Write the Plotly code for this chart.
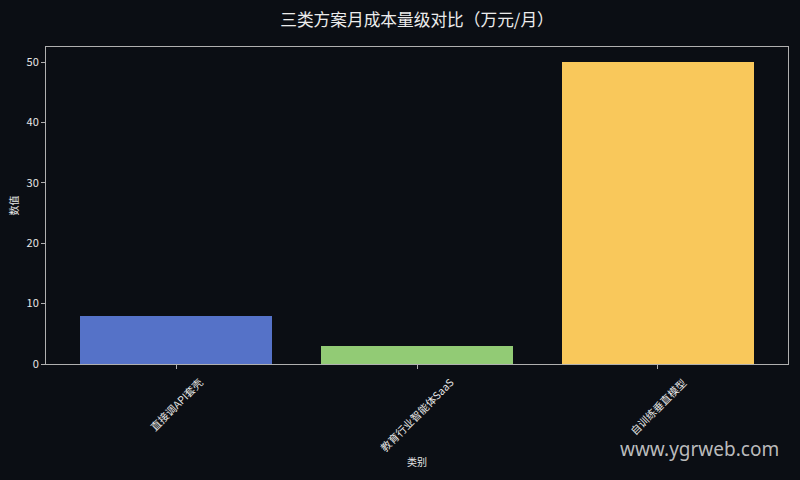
import plotly.graph_objects as go

categories = ["直接调API套壳", "教育行业智能体SaaS", "自训练垂直模型"]
values = [8, 3, 50]
colors = ["#5572c8", "#92cb75", "#f9c85b"]
title = "三类方案月成本量级对比（万元/月）"
x_title = "类别"
y_title = "数值"
y_ticks = [0, 10, 20, 30, 40, 50]

bg = "#0b0e14"
axis_col = "#b0b0b0"
txt_col = "#e6e6e6"
font_fam = "Noto Sans CJK SC, DejaVu Sans, sans-serif"

xs = list(range(len(categories)))
fig = go.Figure(go.Bar(x=xs, y=values,
                       marker=dict(color=colors, line=dict(width=0)),
                       width=0.8, hoverinfo="skip"))

fig.update_layout(
    width=800, height=480,
    paper_bgcolor=bg, plot_bgcolor=bg,
    margin=dict(l=46, r=12, t=47, b=116),
    font=dict(family=font_fam, color=txt_col, size=11),
    title=dict(text=title, x=0.5, xref="paper", xanchor="center", y=0.958,
               yanchor="middle", font=dict(size=16.7, color="#ececec")),
    showlegend=False,
    bargap=0,
)
fig.update_xaxes(
    range=[-0.54, 2.54], tickmode="array", tickvals=xs,
    ticktext=[""] * len(xs), ticks="outside", ticklen=4, tickcolor=axis_col,
    showgrid=False, zeroline=False, showline=True, linecolor=axis_col, linewidth=1,
    mirror=True,
)
fig.update_yaxes(
    range=[0, 52.5], tickmode="array", tickvals=y_ticks, ticks="outside", ticklen=4,
    tickcolor=axis_col, showgrid=False, zeroline=False, showline=True,
    linecolor=axis_col, linewidth=1, mirror=True,
    tickfont=dict(size=11, color=txt_col),
    title=dict(text=y_title, font=dict(size=10, color=txt_col), standoff=6),
)
# rotated category labels centred on their ticks
for xv, lab in zip(xs, categories):
    fig.add_annotation(text=lab, x=xv, xref="x", y=0, yref="paper",
                       xanchor="center", yanchor="top", yshift=-8,
                       textangle=-45, showarrow=False,
                       font=dict(size=10.5, color=txt_col))
fig.add_annotation(text=x_title, x=0.5, xref="paper", y=-0.309, yref="paper",
                   xanchor="center", yanchor="middle", showarrow=False,
                   font=dict(size=10, color=txt_col))
fig.add_annotation(text="www.ygrweb.com", xref="paper", yref="paper",
                   x=0.991, y=-0.268, xanchor="right", yanchor="middle",
                   showarrow=False,
                   font=dict(size=19, color="rgba(220,220,220,0.85)",
                             family="Noto Sans, DejaVu Sans, sans-serif"))

fig.write_html("out.html", config={"displayModeBar": False},
               post_script="document.body.style.margin='0';document.body.style.background='#0b0e14';")
